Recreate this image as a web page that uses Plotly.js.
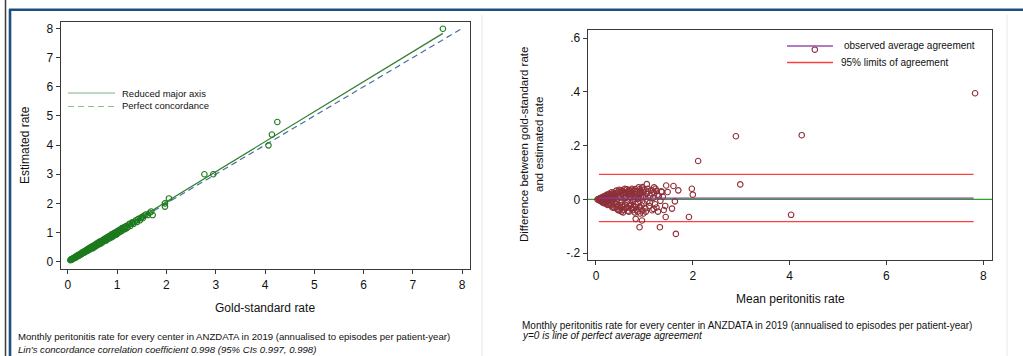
<!DOCTYPE html>
<html>
<head>
<meta charset="utf-8">
<script src="https://cdn.plot.ly/plotly-3.0.1.min.js"></script>
<style>html,body{margin:0;padding:0;background:#fff;}#chart{width:1023px;height:356px;}</style>
</head>
<body>
<div id="chart"></div>
<script>
// ---------- Left panel: gold-standard vs estimated rate ----------
const goldRate = [0.05,0.06,0.08,0.09,0.10,0.12,0.13,0.14,0.16,0.17,0.18,0.20,0.21,0.22,0.24,0.25,0.26,0.28,0.29,0.30,
  0.32,0.33,0.34,0.36,0.37,0.38,0.40,0.41,0.42,0.44,0.45,0.46,0.48,0.49,0.50,0.52,0.53,0.54,0.56,0.57,
  0.58,0.60,0.61,0.62,0.64,0.65,0.66,0.68,0.69,0.70,0.72,0.73,0.74,0.76,0.77,0.78,0.80,0.81,0.82,0.84,
  0.85,0.86,0.88,0.89,0.90,0.92,0.93,0.94,0.96,0.97,0.98,1.00,1.01,1.03,1.05,1.07,1.09,1.11,1.13,1.16,
  1.18,1.21,1.24,1.27,1.30,1.33,1.36,1.40,1.43,1.46,1.50,1.55,1.58,1.62,1.66,1.69,1.72,1.97,1.97,2.05,
  2.77,2.95,4.07,4.14,4.25,7.61,
  0.07,0.11,0.15,0.19,0.23,0.27,0.31,0.35,0.39,0.43,0.47,0.51,0.55,0.59,0.63,0.67,0.71,0.75,0.79,0.83,
  0.87,0.91,0.95,0.99,1.02,1.06,1.10,1.15,1.20,1.25,1.32,1.38,1.48,1.52];
const estRate = [0.05,0.07,0.07,0.10,0.11,0.11,0.14,0.15,0.15,0.19,0.17,0.21,0.23,0.20,0.25,0.27,0.24,0.30,0.28,0.33,
  0.31,0.35,0.32,0.38,0.36,0.41,0.38,0.44,0.42,0.46,0.42,0.49,0.47,0.52,0.46,0.55,0.53,0.50,0.59,0.55,
  0.62,0.58,0.64,0.60,0.66,0.61,0.70,0.67,0.72,0.66,0.75,0.71,0.78,0.74,0.81,0.73,0.83,0.79,0.86,0.80,
  0.88,0.85,0.93,0.84,0.92,0.88,0.97,0.91,1.00,0.93,1.02,0.97,1.05,1.00,1.09,1.04,1.12,1.07,1.17,1.12,
  1.22,1.19,1.27,1.23,1.34,1.30,1.38,1.36,1.47,1.42,1.53,1.58,1.62,1.60,1.68,1.72,1.60,1.89,2.00,2.17,
  3.00,3.00,3.99,4.36,4.79,7.99,
  0.08,0.12,0.14,0.20,0.24,0.26,0.33,0.34,0.37,0.45,0.50,0.49,0.57,0.56,0.67,0.64,0.73,0.72,0.82,0.85,
  0.83,0.95,0.97,0.94,1.06,1.03,1.15,1.18,1.16,1.30,1.35,1.42,1.50,1.49];
// Reduced major axis line end points and perfect concordance line
const rmaX = [0.05, 7.61];
const rmaY = [0.05, 7.83];
const perfX = [0, 8];
const perfY = [0, 8];
const leftTicks = [0,1,2,3,4,5,6,7,8];

// ---------- Right panel: Bland-Altman ----------
const meanRate = [0.03,0.05,0.06,0.08,0.09,0.10,0.11,0.12,0.13,0.14,0.15,0.16,0.17,0.18,0.19,0.20,0.21,0.22,0.23,0.24,
  0.25,0.26,0.27,0.28,0.29,0.30,0.31,0.32,0.33,0.34,0.35,0.36,0.37,0.38,0.39,0.40,0.41,0.42,0.43,0.44,
  0.45,0.46,0.47,0.48,0.49,0.50,0.51,0.52,0.53,0.54,0.55,0.56,0.57,0.58,0.59,0.60,0.61,0.62,0.63,0.64,
  0.65,0.66,0.67,0.68,0.69,0.70,0.71,0.72,0.73,0.74,0.75,0.76,0.77,0.78,0.79,0.80,0.81,0.82,0.83,0.84,
  0.85,0.86,0.87,0.88,0.89,0.90,0.91,0.92,0.93,0.94,0.95,0.96,0.97,0.98,0.99,1.00,1.02,1.04,1.06,1.08,
  1.10,1.12,1.14,1.16,1.18,1.20,1.22,1.25,1.28,1.30,1.33,1.36,
  2.11,2.89,4.25,4.52,7.83,2.98,4.03,1.65,1.32,0.90,1.92,1.44,0.95,0.82,1.05,1.45,1.60,1.98,2.00,1.70,
  1.48,1.63,1.40,1.57,1.43,1.35,1.38,1.25,1.20,
  0.07,0.10,0.12,0.14,0.16,0.18,0.20,0.22,0.24,0.26,0.28,0.30,0.32,0.34,0.36,0.38,0.40,0.42,0.44,0.46,
  0.48,0.50,0.52,0.54,0.56,0.58,0.60,0.62,0.64,0.66,0.68,0.70,0.72,0.74,0.76,0.78,0.80,0.82,0.84,0.86,
  0.88,0.90,0.92,0.94,0.96,0.98,1.00,1.03,1.07,1.11,1.15,1.19,1.23,1.27];
const rateDiff = [0.000,0.002,-0.003,0.004,-0.005,0.001,0.007,-0.008,0.003,-0.012,0.010,-0.004,0.006,-0.015,0.013,0.002,-0.010,0.017,-0.006,0.009,
  -0.018,0.004,0.021,-0.013,0.012,-0.022,0.007,0.027,-0.009,0.015,-0.026,0.003,0.019,-0.031,0.011,0.024,-0.017,0.033,-0.004,-0.036,
  0.014,0.029,-0.022,0.036,-0.041,0.008,-0.012,0.022,-0.045,0.031,-0.027,0.016,-0.038,0.037,0.005,-0.019,0.026,-0.032,0.012,0.038,
  -0.008,-0.042,0.020,0.034,-0.025,0.009,-0.014,0.030,-0.035,0.017,0.036,-0.006,-0.028,0.024,0.004,-0.048,0.039,-0.018,0.013,-0.038,
  0.028,0.002,-0.011,0.045,-0.030,0.019,-0.052,0.033,0.007,-0.022,0.041,-0.041,0.012,0.028,-0.015,0.036,-0.033,0.021,-0.008,0.030,
  -0.024,0.014,0.035,-0.040,0.006,0.025,-0.018,0.032,-0.045,0.012,-0.005,0.028,
  0.143,0.235,0.239,0.557,0.395,0.056,-0.057,-0.128,-0.103,-0.103,-0.065,-0.065,-0.078,-0.072,0.057,0.052,0.050,0.040,0.018,0.034,
  0.028,-0.007,-0.039,-0.034,-0.024,0.030,0.010,-0.030,0.045,
  0.001,-0.004,0.005,0.002,0.011,0.004,-0.013,0.008,-0.020,0.016,0.002,0.020,-0.016,-0.030,0.025,-0.010,0.005,-0.028,0.022,-0.040,
  0.015,-0.030,0.034,-0.020,-0.048,0.025,0.040,0.006,-0.030,0.030,-0.045,0.022,-0.020,0.040,-0.040,0.010,0.032,-0.028,0.020,-0.045,
  0.005,0.038,-0.030,0.025,0.046,-0.052,0.010,-0.045,0.040,-0.012,0.022,-0.035,0.040,0.018];
const meanDiff = 0.005;       // observed average agreement
const loaUpper = 0.093;       // 95% limits of agreement
const loaLower = -0.082;
const refX = [0.06, 7.80];
const rightXTicks = [0,2,4,6,8];
const rightYTicks = [-0.2,0,0.2,0.4,0.6];
const rightYTickText = ['-.2','0','.2','.4','.6'];

// ---------- helpers ----------
const W = 1023, H = 356;
const px = v => v / W;
const py = v => 1 - v / H;
const FONT = 'Liberation Sans, Arial, Helvetica, sans-serif';
const axisCommon = {
  showgrid: false, zeroline: false, showline: true, mirror: true,
  linecolor: '#3a3a3a', linewidth: 1.3, ticks: 'outside', ticklen: 4,
  tickcolor: '#3a3a3a', tickwidth: 1, tickfont: {family: FONT, size: 12, color: '#111'},
  fixedrange: true
};

const traces = [
  {x: perfX, y: perfY, xaxis: 'x', yaxis: 'y', mode: 'lines', showlegend: false,
   line: {color: '#4a6f9e', width: 1.2, dash: '6px,4px'}},
  {x: rmaX, y: rmaY, xaxis: 'x', yaxis: 'y', mode: 'lines', showlegend: false,
   line: {color: '#2f7f2f', width: 1.2}},
  {x: goldRate, y: estRate, xaxis: 'x', yaxis: 'y', mode: 'markers', showlegend: false,
   marker: {symbol: 'circle-open', size: 5.5, color: '#1d7a1d', line: {width: 1.1, color: '#1d7a1d'}}},
  {x: refX, y: [loaUpper, loaUpper], xaxis: 'x2', yaxis: 'y2', mode: 'lines', showlegend: false,
   line: {color: '#ff4040', width: 1.2}},
  {x: refX, y: [loaLower, loaLower], xaxis: 'x2', yaxis: 'y2', mode: 'lines', showlegend: false,
   line: {color: '#ff4040', width: 1.2}},
  {x: meanRate, y: rateDiff, xaxis: 'x2', yaxis: 'y2', mode: 'markers', showlegend: false,
   marker: {symbol: 'circle-open', size: 5.5, color: '#8e3038', line: {width: 1.1, color: '#8e3038'}}},
  {x: refX, y: [meanDiff, meanDiff], xaxis: 'x2', yaxis: 'y2', mode: 'lines', showlegend: false,
   line: {color: '#8a3aa0', width: 1.3}}
];

const shapes = [
  // outer frames
  {type: 'line', xref: 'paper', yref: 'paper', x0: px(5.5), x1: px(5.5), y0: 0, y1: 1, line: {color: '#3c3c3c', width: 1.5}},
  {type: 'line', xref: 'paper', yref: 'paper', x0: px(9), x1: 1, y0: py(9.8), y1: py(9.8), line: {color: '#1f4f7e', width: 2.6}},
  {type: 'line', xref: 'paper', yref: 'paper', x0: px(10), x1: px(10), y0: 0, y1: py(9), line: {color: '#1f4f7e', width: 2.6}},
  {type: 'line', xref: 'paper', yref: 'paper', x0: px(482), x1: px(482), y0: 0, y1: py(15), line: {color: '#e4e4e4', width: 1}},
  {type: 'line', xref: 'paper', yref: 'paper', x0: px(1007), x1: px(1007), y0: 0, y1: py(15), line: {color: '#e8e8e8', width: 1}},
  // zero reference line on the right plot
  {type: 'line', xref: 'x2 domain', yref: 'y2', x0: 0, x1: 1, y0: 0, y1: 0, line: {color: '#2aa52a', width: 1.2}, layer: 'below'},
  // left legend keys
  {type: 'line', xref: 'paper', yref: 'paper', x0: px(68), x1: px(115), y0: py(93), y1: py(93), line: {color: '#7bb87b', width: 1.2}},
  {type: 'line', xref: 'paper', yref: 'paper', x0: px(68), x1: px(115), y0: py(106.5), y1: py(106.5), line: {color: '#8cbf8c', width: 1.2, dash: '6px,4px'}},
  // right legend keys
  {type: 'line', xref: 'paper', yref: 'paper', x0: px(787), x1: px(833), y0: py(46), y1: py(46), line: {color: '#9a4fb0', width: 1.3}},
  {type: 'line', xref: 'paper', yref: 'paper', x0: px(787), x1: px(833), y0: py(62.5), y1: py(62.5), line: {color: '#ff4040', width: 1.3}}
];

function txt(text, x, y, size, opts) {
  return Object.assign({text: text, xref: 'paper', yref: 'paper', x: px(x), y: py(y),
    xanchor: 'left', yanchor: 'middle', showarrow: false,
    font: {family: FONT, size: size, color: '#111'}}, opts || {});
}

const annotations = [
  txt('Reduced major axis', 120, 93, 9.5),
  txt('Perfect concordance', 120, 105.5, 9.5),
  txt('observed average agreement', 842, 46, 10),
  txt('95% limits of agreement', 839, 63, 10),
  txt('Estimated rate', 25, 145, 12, {xanchor: 'center', textangle: -90}),
  txt('Gold-standard rate', 265, 308, 12, {xanchor: 'center'}),
  txt('Difference between gold-standard rate<br>and estimated rate', 532, 145, 11.5, {xanchor: 'center', textangle: -90}),
  txt('Mean peritonitis rate', 790, 299, 12, {xanchor: 'center'}),
  txt('Monthly peritonitis rate for every center in ANZDATA in 2019 (annualised to episodes per patient-year)', 16, 336, 9.6),
  txt('<i>Lin\'s concordance correlation coefficient 0.998 (95% CIs 0.997, 0.998)</i>', 16, 349.5, 9.6),
  txt('Monthly peritonitis rate for every center in ANZDATA in 2019 (annualised to episodes per patient-year)', 520, 325.5, 10),
  txt('<i>y=0 is line of perfect average agreement</i>', 520, 335.8, 10)
];

const layout = {
  width: W, height: H,
  margin: {l: 0, r: 0, t: 0, b: 0},
  paper_bgcolor: '#ffffff', plot_bgcolor: '#ffffff',
  showlegend: false,
  xaxis: Object.assign({}, axisCommon, {domain: [px(61), px(470)], range: [-0.14, 8.16],
    tickvals: leftTicks, anchor: 'y'}),
  yaxis: Object.assign({}, axisCommon, {domain: [py(269), py(22)], range: [-0.25, 8.22],
    tickvals: leftTicks, anchor: 'x'}),
  xaxis2: Object.assign({}, axisCommon, {domain: [px(588), px(992)], range: [-0.165, 8.18],
    tickvals: rightXTicks, anchor: 'y2'}),
  yaxis2: Object.assign({}, axisCommon, {domain: [py(260), py(30)], range: [-0.225, 0.63],
    tickvals: rightYTicks, ticktext: rightYTickText, anchor: 'x2'}),
  shapes: shapes,
  annotations: annotations
};

Plotly.newPlot('chart', traces, layout, {staticPlot: true, displayModeBar: false});
</script>
</body>
</html>
